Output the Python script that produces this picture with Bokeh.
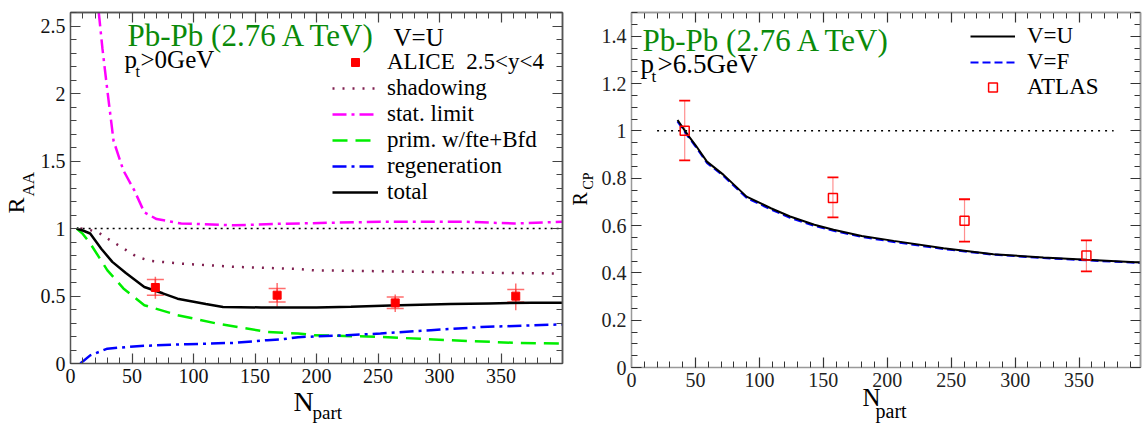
import math
from bokeh.plotting import figure
from bokeh.models import (Range1d, FixedTicker, NumeralTickFormatter, LinearAxis, Label,
                          Legend, LegendItem, Whisker, TeeHead, ColumnDataSource)
from bokeh.layouts import row, column
from bokeh.embed import file_html
from bokeh.resources import INLINE

FONT = "Liberation Serif"

# ---------------- left panel data (R_AA vs Npart, pt>0) ----------------
ref_left_x = [5, 400]
ref_left_y = [1.0, 1.0]

shad_x = [8, 15, 22, 30, 41, 54, 65, 90, 133, 185, 198, 280, 361, 396]
shad_y = [1.0, 0.99, 0.975, 0.926, 0.864, 0.79, 0.76, 0.74, 0.716, 0.70, 0.69, 0.68, 0.67, 0.667]

stat_x = [21, 23, 26, 30, 35, 43, 52, 60, 70, 90, 133, 171, 252, 320, 361, 400]
stat_y = [2.8, 2.6, 2.33, 2.02, 1.65, 1.43, 1.28, 1.12, 1.07, 1.037, 1.024, 1.035, 1.05, 1.05, 1.037, 1.05]

prim_x = [5, 10, 16, 30, 43, 60, 87, 119, 160, 185, 198, 252, 307, 361, 400]
prim_y = [1.0, 0.96, 0.89, 0.69, 0.556, 0.432, 0.358, 0.296, 0.234, 0.222, 0.21, 0.197, 0.173, 0.153, 0.148]

regen_x = [8, 16, 30, 57, 95, 133, 160, 171, 185, 225, 252, 293, 334, 401]
regen_y = [0.0, 0.06, 0.11, 0.13, 0.143, 0.153, 0.173, 0.178, 0.195, 0.21, 0.222, 0.247, 0.27, 0.29]

total_x = [5, 10, 16, 25, 34, 45, 60, 75, 87, 110, 124, 155, 200, 228, 260, 309, 340, 375, 400]
total_y = [1.0, 0.985, 0.963, 0.85, 0.753, 0.67, 0.567, 0.52, 0.48, 0.44, 0.419, 0.415, 0.415, 0.42,
           0.43, 0.44, 0.445, 0.45, 0.45]

alice_x = [69, 168, 264, 362]
alice_y = [0.563, 0.506, 0.449, 0.499]
alice_lo = [0.48, 0.42, 0.382, 0.395]
alice_hi = [0.642, 0.597, 0.511, 0.593]
alice_cap_lo = [0.506, 0.456, 0.407, 0.456]
alice_cap_hi = [0.622, 0.556, 0.493, 0.548]

left_xticks = [0, 50, 100, 150, 200, 250, 300, 350]
left_xminor = list(range(0, 401, 10))
left_yticks = [0, 0.5, 1.0, 1.5, 2.0, 2.5]
left_yminor = [round(0.1 * i, 2) for i in range(0, 27)]

# ---------------- right panel data (R_CP vs Npart, pt>6.5) ----------------
ref_right_x = [20, 377]
ref_right_y = [1.0, 1.0]

curve_x = [36, 44, 50, 59, 72, 90, 109, 124, 143, 158, 180, 205, 244, 283, 322, 356, 398]
vu_y = [1.046, 0.983, 0.94, 0.870, 0.814, 0.722, 0.673, 0.638, 0.603, 0.582, 0.556, 0.535, 0.504,
        0.479, 0.465, 0.455, 0.444]
vf_y = [1.040, 0.978, 0.935, 0.865, 0.809, 0.717, 0.668, 0.633, 0.599, 0.578, 0.552, 0.531, 0.501,
        0.477, 0.463, 0.453, 0.442]

atlas_x = [41.6, 157.5, 260.4, 355.7]
atlas_y = [1.0, 0.716, 0.62, 0.473]
atlas_lo = [0.875, 0.634, 0.532, 0.406]
atlas_hi = [1.128, 0.803, 0.711, 0.537]

right_xticks = [0, 50, 100, 150, 200, 250, 300, 350]
right_xminor = list(range(0, 400, 10))
right_yticks = [0, 0.2, 0.4, 0.6, 0.8, 1.0, 1.2, 1.4]
right_yminor = [round(0.05 * i, 2) for i in range(0, 31)]

W, H = 1143, 424


def style(p, xt, xm, yt, ym, tick_size, axis_color, tick_color, label_color):
    p.grid.visible = False
    p.outline_line_color = None
    p.background_fill_color = "white"
    for ax, t, m in ((p.xaxis[0], xt, xm), (p.yaxis[0], yt, ym)):
        ax.ticker = FixedTicker(ticks=t, minor_ticks=m)
        ax.formatter = NumeralTickFormatter(format="0.[0]")
        ax.major_label_text_font = FONT
        ax.major_label_text_font_size = tick_size
        ax.major_label_text_color = label_color
        ax.major_label_standoff = 5
        ax.axis_line_color = axis_color
        ax.axis_line_width = 1.5
        ax.major_tick_in = 10
        ax.major_tick_out = 0
        ax.minor_tick_in = 6
        ax.minor_tick_out = 0
        ax.major_tick_line_color = tick_color
        ax.minor_tick_line_color = tick_color
        ax.major_tick_line_width = 1.2
        ax.minor_tick_line_width = 1.0
    # mirrored ticks on the top and right edges: label-free axes (no major ticks -> no texts)
    for side, t, m in (("right", yt, ym), ("above", xt, xm)):
        for positions, length, width in ((m, 6, 1.0), (t, 10, 1.2)):
            ax = LinearAxis(ticker=FixedTicker(ticks=[], minor_ticks=positions),
                            major_label_text_font_size="0px", major_label_standoff=0,
                            axis_line_color=axis_color, axis_line_width=1.5,
                            major_tick_in=0, major_tick_out=0, minor_tick_in=length, minor_tick_out=0,
                            minor_tick_line_color=tick_color, minor_tick_line_width=width)
            p.add_layout(ax, side)


def lab(p, x, y, text, size, color="black", angle=0.0):
    p.add_layout(Label(x=x, y=y, x_units="screen", y_units="screen", text=text,
                       text_font=FONT, text_font_size=size, text_color=color,
                       text_baseline="alphabetic", text_align="left", angle=angle))


def leg(p, label, rend, x, yc, size, lh, gw, gh, standoff):
    # one legend entry, centred (in frame screen units) at height yc
    p.add_layout(Legend(items=[LegendItem(label=label, renderers=[rend])],
                        location=(x, yc - lh / 2), padding=0, margin=0, spacing=0,
                        glyph_width=gw, glyph_height=gh, label_height=lh, label_standoff=standoff,
                        label_text_font=FONT, label_text_font_size=size, label_text_color="black",
                        border_line_color=None, background_fill_alpha=0), "center")


# ======================= LEFT FIGURE =======================
p1 = figure(frame_width=492, frame_height=351, x_range=Range1d(0, 400), y_range=Range1d(0, 2.6),
            output_backend="svg", toolbar_location=None,
            min_border_left=70, min_border_right=8, min_border_top=12, min_border_bottom=61)
style(p1, left_xticks, left_xminor, left_yticks, left_yminor, "20px", "#555555", "#444444", "#111111")

p1.line(ref_left_x, ref_left_y, line_color="black", line_width=1.5, line_dash="2 4")
r_stat = p1.line(stat_x, stat_y, line_color="#ff00ff", line_width=2.5, line_dash="14 5 3 5")
r_shad = p1.line(shad_x, shad_y, line_color="#802050", line_width=2.5, line_dash="2 8")
r_prim = p1.line(prim_x, prim_y, line_color="#00ee00", line_width=2.5, line_dash="15 8")
r_regen = p1.line(regen_x, regen_y, line_color="#0000ff", line_width=2.5, line_dash="14 5 3 5")
r_total = p1.line(total_x, total_y, line_color="black", line_width=2.5)

asrc = ColumnDataSource(dict(x=alice_x, y=alice_y, lo=alice_lo, hi=alice_hi,
                             clo=alice_cap_lo, chi=alice_cap_hi))
p1.add_layout(Whisker(source=asrc, base="x", lower="lo", upper="hi", dimension="height",
                      line_color="#ff3030", line_alpha=0.7, line_width=1.5,
                      upper_head=None, lower_head=None))
p1.add_layout(Whisker(source=asrc, base="x", lower="clo", upper="chi", dimension="height",
                      line_color="#ff3030", line_alpha=0.7, line_width=1.5,
                      upper_head=TeeHead(size=17, line_color="#ff3030", line_alpha=0.7, line_width=1.5),
                      lower_head=TeeHead(size=17, line_color="#ff3030", line_alpha=0.7, line_width=1.5)))
r_alice = p1.scatter("x", "y", source=asrc, marker="square", size=8, color="#ff0000")

for i, (txt, rend) in enumerate([("ALICE\u00a0 2.5<y<4", r_alice), ("shadowing", r_shad),
                                 ("stat. limit", r_stat), ("prim. w/fte+Bfd", r_prim),
                                 ("regeneration", r_regen), ("total", r_total)]):
    leg(p1, txt, rend, 262, 363 - (61.7 + 26 * i), "23px", 26, 46, 20, 9)

lab(p1, 57, 328, "Pb-Pb (2.76 A TeV)", "31px", "#0a8a0a")
lab(p1, 54, 304, "p", "25px")
lab(p1, 65, 292, "t", "16px")
lab(p1, 70, 304, ">0GeV", "25px")
lab(p1, 323, 326, "V=U", "25px")

# ======================= RIGHT FIGURE =======================
p2 = figure(frame_width=509, frame_height=355, x_range=Range1d(0, 398), y_range=Range1d(0, 1.5),
            output_backend="svg", toolbar_location=None,
            min_border_left=61, min_border_right=3, min_border_top=7, min_border_bottom=62)
style(p2, right_xticks, right_xminor, right_yticks, right_yminor, "20px", "#999999", "#333333", "#222222")

p2.line(ref_right_x, ref_right_y, line_color="black", line_width=1.5, line_dash="2 5")
r_vf = p2.line(curve_x, vf_y, line_color="#0000ff", line_width=2.2, line_dash="8 4")
r_vu = p2.line(curve_x, vu_y, line_color="black", line_width=2.0)

tsrc = ColumnDataSource(dict(x=atlas_x, y=atlas_y, lo=atlas_lo, hi=atlas_hi))
p2.add_layout(Whisker(source=tsrc, base="x", lower="lo", upper="hi", dimension="height",
                      line_color="#ff6060", line_alpha=0.7, line_width=1.2,
                      upper_head=TeeHead(size=11, line_color="#ff0000", line_width=1.8),
                      lower_head=TeeHead(size=11, line_color="#ff0000", line_width=1.8)))
r_atlas = p2.scatter("x", "y", source=tsrc, marker="square", size=9, line_color="#ff0000",
                     line_width=1.5, fill_alpha=0)

for txt, rend, yc in (("V=U", r_vu, 31.5), ("V=F", r_vf, 57.0), ("ATLAS", r_atlas, 82.5)):
    leg(p2, txt, rend, 339, 362 - yc, "23px", 25, 45, 22, 12)

lab(p2, 11, 327, "Pb-Pb (2.76 A TeV)", "31px", "#0a8a0a")
lab(p2, 9, 304, "p", "27px")
lab(p2, 20, 291, "t", "17px")
lab(p2, 26, 304, ">6.5GeV", "27px")

# ============ transparent overlay carrying the axis titles ============
ov = figure(width=W, height=H, x_range=Range1d(0, W), y_range=Range1d(0, H),
            x_axis_type=None, y_axis_type=None, title=None,
            output_backend="svg", toolbar_location=None,
            min_border=0, min_border_left=0, min_border_right=0, min_border_top=0, min_border_bottom=0,
            outline_line_color=None, background_fill_color=None, border_fill_color=None)
ov.grid.visible = False
ov.margin = (-H, 0, 0, 0)


def olab(x, y, text, size, angle=0.0):
    # x, y: canvas pixels from the top-left corner of the page
    lab(ov, x, H - y, text, size, "black", angle)


olab(15, 213, "R", "24px", math.pi / 2)
olab(28, 196, "AA", "17px", math.pi / 2)
olab(293, 401, "N", "28px")
olab(312, 412, "part", "19px")
olab(579, 205, "R", "20px", math.pi / 2)
olab(588, 189, "CP", "14px", math.pi / 2)
olab(862, 397, "N", "25px")
olab(875, 410, "part", "20px")

layout = column(row(p1, p2), ov)
open("out.html", "w").write(file_html(layout, INLINE))
